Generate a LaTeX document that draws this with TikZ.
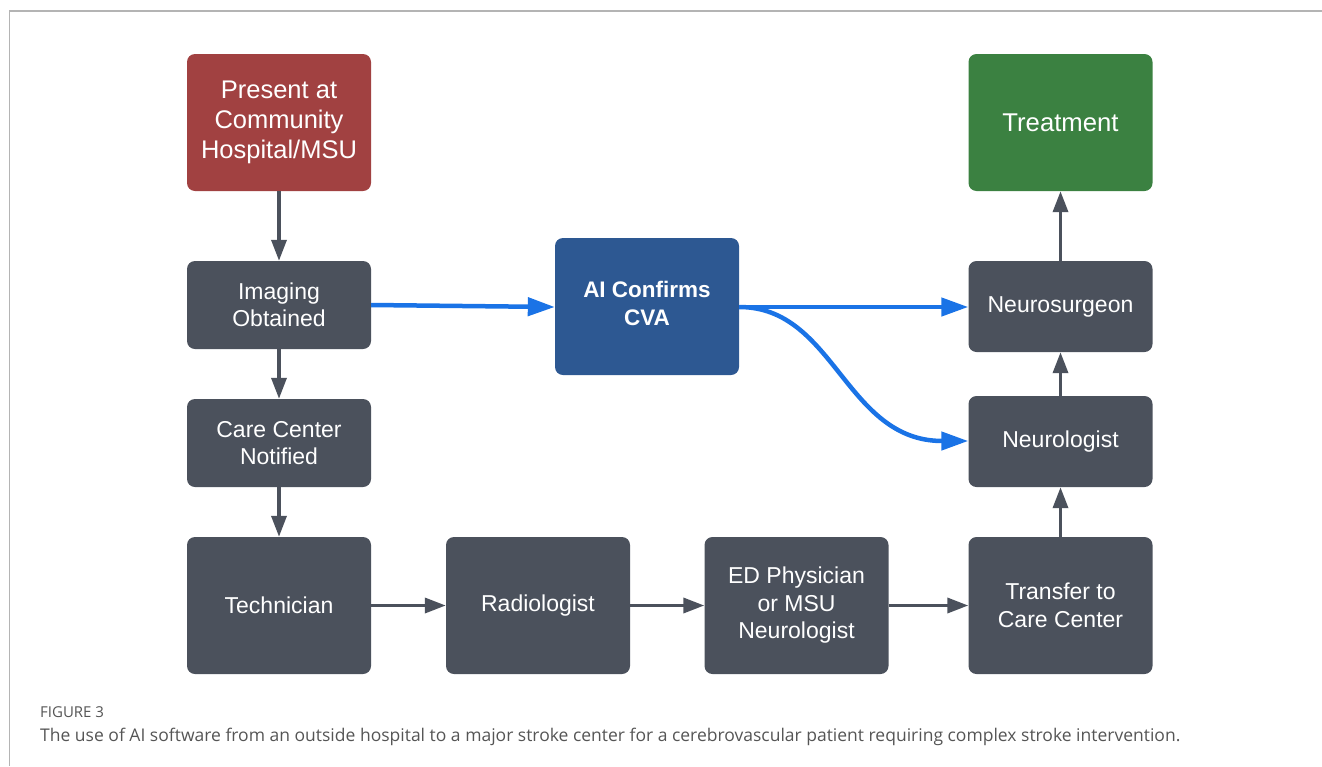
\documentclass[tikz,border=0pt]{standalone}
\usepackage{fontspec}
\setmainfont{Liberation Sans}
\newfontfamily\capfont{Open Sans}
\usetikzlibrary{arrows.meta}
\definecolor{boxgray}{HTML}{4B515C}
\definecolor{boxred}{HTML}{A14141}
\definecolor{boxblue}{HTML}{2D5892}
\definecolor{boxgreen}{HTML}{3B8141}
\definecolor{flowblue}{HTML}{1A73E6}
\definecolor{framegray}{HTML}{B4B4B4}
\definecolor{captiongray}{HTML}{555555}
\tikzset{
  stepbox/.style={rectangle, rounded corners=8pt, fill=boxgray, text=white,
    minimum width=184pt, align=center, inner sep=0pt,
    font=\fontsize{23}{27.5}\selectfont},
  tallbox/.style={stepbox, minimum height=137pt},
  shortbox/.style={stepbox, minimum height=88pt},
  grayflow/.style={draw=boxgray, line width=3.5pt,
    -{Triangle[length=21pt,width=15pt]}},
  blueflow/.style={draw=flowblue, line width=4.5pt,
    -{Triangle[length=27pt,width=18pt]}},
}
\begin{document}
\begin{tikzpicture}[x=1pt,y=-1pt]
\useasboundingbox (0,0) rectangle (1322,766);
% frame
\draw[framegray, line width=1.2pt] (1322,11) -- (9.5,11) -- (9.5,766);

% left column
\node[tallbox, fill=boxred, font=\fontsize{25.5}{30}\selectfont] (present) at (279,122.5) {Present at\\Community\\Hospital/MSU};
\node[shortbox] (imaging) at (279,305) {Imaging\\Obtained};
\node[shortbox] (care) at (279,443) {Care Center\\Notified};
\node[tallbox] (tech) at (279,605.5) {Technician};

% bottom row
\node[tallbox] (radio) at (538,605.5) {Radiologist};
\node[tallbox] (edphys) at (796.5,605.5) {ED Physician\\or MSU\\Neurologist};
\node[tallbox] (transfer) at (1060.5,605.5) {Transfer to\\Care Center};

% right column
\node[shortbox, minimum height=91pt] (neurol) at (1060.5,441.5) {Neurologist};
\node[shortbox, minimum height=91pt] (neuros) at (1060.5,306.5) {Neurosurgeon};
\node[tallbox, fill=boxgreen, font=\fontsize{25.7}{30}\selectfont] (treat) at (1060.5,122.5) {Treatment};

% AI box, with its two text lines set a little above the middle
\node[tallbox, fill=boxblue] (ai) at (647,306.5) {};
\node[align=center, text=white, inner sep=0pt,
      font=\bfseries\fontsize{22.5}{28}\selectfont] (aitext) at (647,303) {AI Confirms\\CVA};

% gray connectors
\draw[grayflow] (present) -- (imaging);
\draw[grayflow] (imaging) -- (care);
\draw[grayflow] (care) -- (tech);
\draw[grayflow] (tech) -- (radio);
\draw[grayflow] (radio) -- (edphys);
\draw[grayflow] (edphys) -- (transfer);
\draw[grayflow] (transfer) -- (neurol);
\draw[grayflow] (neurol) -- (neuros);
\draw[grayflow] (neuros) -- (treat);

% AI connectors
\coordinate (aiout) at (ai.east |- 0,307);
\draw[blueflow] (imaging.east |- 0,305) -- (ai.west |- 0,307);
\draw[blueflow] (aiout) -- (neuros.west |- 0,307);
\draw[blueflow] (aiout) .. controls (835,307) and (845,441) .. (neurol.west |- 0,441);

% caption
\node[anchor=base west, inner sep=0pt, text=captiongray,
      font=\capfont\fontsize{15}{17}\selectfont] (figlabel) at (40,717) {FIGURE 3};
\node[anchor=base west, inner sep=0pt, text=captiongray,
      font=\capfont\fontsize{17.5}{20}\selectfont] (caption) at (40,741)
  {The use of AI software from an outside hospital to a major stroke center for a cerebrovascular patient requiring complex stroke intervention.};
\end{tikzpicture}
\end{document}
